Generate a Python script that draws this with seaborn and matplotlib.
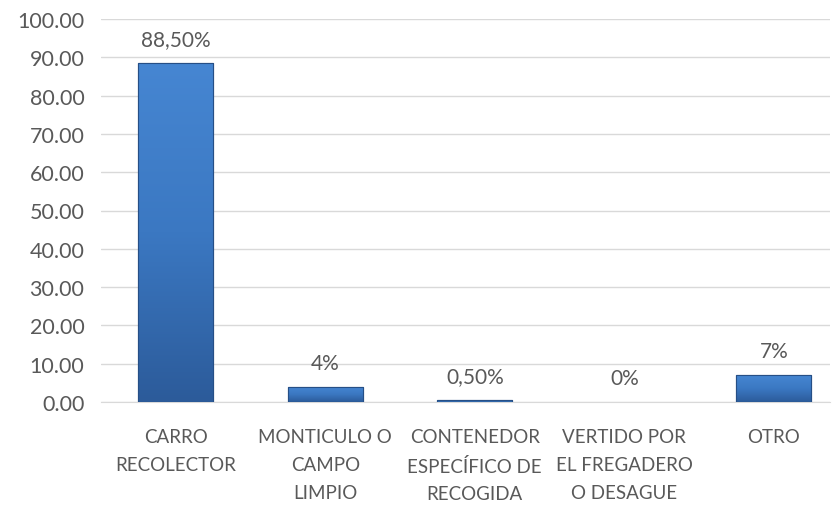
import numpy as np
import pandas as pd
import matplotlib
matplotlib.use("Agg")
import matplotlib.pyplot as plt
import seaborn as sns
from matplotlib.colors import LinearSegmentedColormap


# =========================
# DATA
# =========================

categorias = [
    "CARRO\nRECOLECTOR",
    "MONTICULO O\nCAMPO\nLIMPIO",
    "CONTENEDOR\nESPECÍFICO DE\nRECOGIDA",
    "VERTIDO POR\nEL FREGADERO\nO DESAGUE",
    "OTRO",
]

valores = [88.5, 4, 0.5, 0, 7]

etiquetas = ["88,50%", "4%", "0,50%", "0%", "7%"]

df = pd.DataFrame({"categoria": categorias, "valor": valores})


# =========================
# STYLE
# =========================

sns.set_style("white")
plt.rcParams['font.family'] = ['Lato', 'DejaVu Sans']

gris = "#595959"


# =========================
# PLOT
# =========================

fig = plt.figure(figsize=(8.38, 5.06), dpi=100)

ax = fig.add_axes([101 / 838, 1 - 403 / 506, 729 / 838, 383 / 506])

sns.barplot(
    data=df,
    x="categoria",
    y="valor",
    color="#3a75bd",
    edgecolor="#264f86",
    linewidth=0.8,
    width=0.5,
    saturation=1,
    ax=ax,
    zorder=3
)

# gradient fill, like the bevel look of the original
cmap = LinearSegmentedColormap.from_list("azul", ["#2c5b9a", "#3b78c2", "#4686d2"])
grad = np.linspace(0, 1, 256).reshape(-1, 1)

for p in ax.patches:

    h = p.get_height()

    if h <= 0:
        p.set_visible(False)
        continue

    x0 = p.get_x()
    im = ax.imshow(
        grad,
        cmap=cmap,
        aspect="auto",
        origin="lower",
        extent=[x0, x0 + p.get_width(), 0, h],
        zorder=3.5
    )
    im.set_clip_path(p)

    # outline on top of the gradient
    ax.add_patch(plt.Rectangle(
        (x0, 0), p.get_width(), h,
        fill=False, edgecolor="#264f86", linewidth=0.8, zorder=4
    ))

for i, (v, t) in enumerate(zip(valores, etiquetas)):

    ax.annotate(
        t,
        (i, v),
        xytext=(0, 10),
        textcoords="offset points",
        ha="center",
        va="bottom",
        fontsize=15,
        color=gris
    )

ax.set_ylim(0, 100)
ax.set_xlim(-0.5, -0.5 + 729 / 149.5)
ax.set_yticks(range(0, 101, 10))
ax.set_yticklabels([f"{v:.2f}" for v in range(0, 101, 10)])

ax.yaxis.grid(True, color="#d9d9d9", linewidth=1, zorder=0)

for s in ["top", "right", "left"]:
    ax.spines[s].set_visible(False)

ax.spines["bottom"].set_color("#d9d9d9")

ax.tick_params(axis="y", length=0, labelsize=15.5, colors=gris, pad=12)
ax.tick_params(axis="x", length=0, labelsize=13.5, colors=gris, pad=19)

for lab in ax.get_xticklabels():
    lab.set_linespacing(1.76)

ax.set_xlabel("")
ax.set_ylabel("")

plt.savefig("out.png", dpi=100)
